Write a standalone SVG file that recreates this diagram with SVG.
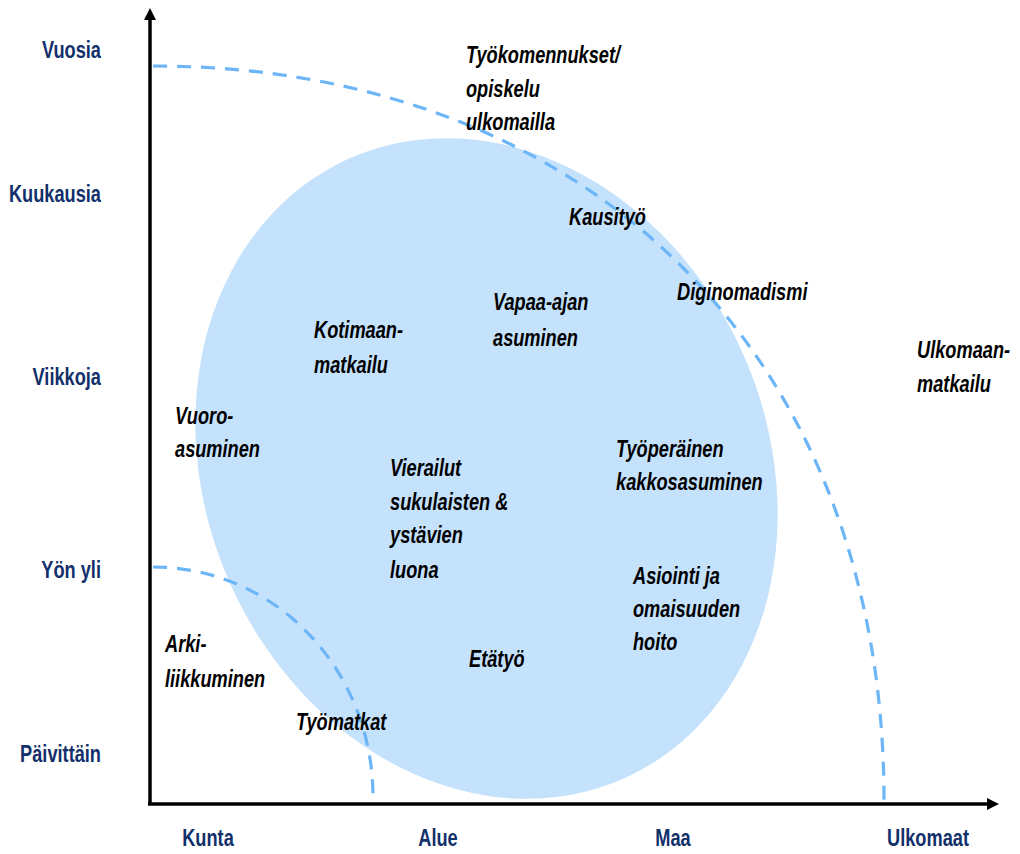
<svg xmlns="http://www.w3.org/2000/svg" width="1020" height="854" viewBox="0 0 1020 854">
<style>
.ax{font-family:"Liberation Sans",Arial,sans-serif;font-weight:bold;font-size:23.5px;fill:#12306b}
.yl{text-anchor:end}
.xl{text-anchor:middle}
.lb{font-family:"Liberation Sans",Arial,sans-serif;font-weight:bold;font-style:italic;font-size:23.5px;fill:#000}
.dash{fill:none;stroke:#6cb6f7;stroke-width:3.2;stroke-dasharray:14 10}
.axis{stroke:#000;stroke-width:3.5;fill:none}
</style>
<defs>
<marker id="ah" viewBox="0 0 12 12" refX="0" refY="6" markerWidth="12" markerHeight="12" markerUnits="userSpaceOnUse" orient="auto">
<path d="M0,0 L12,6 L0,12 Z" fill="#000"/>
</marker>
</defs>
<rect width="1020" height="854" fill="#fff"/>
<g id="zone">
<ellipse cx="486.5" cy="468.5" rx="281" ry="339" transform="rotate(-23.7 486.5 468.5)" fill="#c5e2fd"/>
</g>
<g id="connectors">
<path class="dash" d="M153,66 C592,66 884,360 884,800"/>
<path class="dash" d="M153,567 C276,567 373,670 373,797"/>
<line class="axis" x1="150" y1="804" x2="150" y2="20" marker-end="url(#ah)"/>
<line class="axis" x1="148" y1="804" x2="987" y2="804" marker-end="url(#ah)"/>
</g>
<g id="y-axis-labels">
<text class="ax yl" transform="translate(101 58) scale(0.775 1)">Vuosia</text>
<text class="ax yl" transform="translate(101 202) scale(0.775 1)">Kuukausia</text>
<text class="ax yl" transform="translate(101 385) scale(0.775 1)">Viikkoja</text>
<text class="ax yl" transform="translate(101 578) scale(0.775 1)">Yön yli</text>
<text class="ax yl" transform="translate(101 762) scale(0.775 1)">Päivittäin</text>
</g>
<g id="x-axis-labels">
<text class="ax xl" transform="translate(208 846) scale(0.775 1)">Kunta</text>
<text class="ax xl" transform="translate(438 846) scale(0.775 1)">Alue</text>
<text class="ax xl" transform="translate(673 846) scale(0.775 1)">Maa</text>
<text class="ax xl" transform="translate(928 846) scale(0.775 1)">Ulkomaat</text>
</g>
<g id="tyokomennukset"><text class="lb" transform="translate(466 63) scale(0.775 1)">Työkomennukset/</text><text class="lb" transform="translate(466 97) scale(0.775 1)">opiskelu</text><text class="lb" transform="translate(466 130) scale(0.775 1)">ulkomailla</text></g>
<g id="kausityo"><text class="lb" transform="translate(569 225) scale(0.775 1)">Kausityö</text></g>
<g id="diginomadismi"><text class="lb" transform="translate(677 300) scale(0.775 1)">Diginomadismi</text></g>
<g id="ulkomaanmatkailu"><text class="lb" transform="translate(917 358) scale(0.775 1)">Ulkomaan-</text><text class="lb" transform="translate(917 392) scale(0.775 1)">matkailu</text></g>
<g id="vapaa-ajan"><text class="lb" transform="translate(493 310) scale(0.775 1)">Vapaa-ajan</text><text class="lb" transform="translate(493 346) scale(0.775 1)">asuminen</text></g>
<g id="kotimaanmatkailu"><text class="lb" transform="translate(314 338) scale(0.775 1)">Kotimaan-</text><text class="lb" transform="translate(314 373) scale(0.775 1)">matkailu</text></g>
<g id="vuoroasuminen"><text class="lb" transform="translate(175 424) scale(0.775 1)">Vuoro-</text><text class="lb" transform="translate(175 457) scale(0.775 1)">asuminen</text></g>
<g id="vierailut"><text class="lb" transform="translate(390 476) scale(0.775 1)">Vierailut</text><text class="lb" transform="translate(390 510) scale(0.775 1)">sukulaisten &amp;</text><text class="lb" transform="translate(390 543) scale(0.775 1)">ystävien</text><text class="lb" transform="translate(390 578) scale(0.775 1)">luona</text></g>
<g id="tyoperainen"><text class="lb" transform="translate(616 457) scale(0.775 1)">Työperäinen</text><text class="lb" transform="translate(616 490) scale(0.775 1)">kakkosasuminen</text></g>
<g id="asiointi"><text class="lb" transform="translate(633 584) scale(0.775 1)">Asiointi ja</text><text class="lb" transform="translate(633 617) scale(0.775 1)">omaisuuden</text><text class="lb" transform="translate(633 650) scale(0.775 1)">hoito</text></g>
<g id="arkiliikkuminen"><text class="lb" transform="translate(165 652) scale(0.775 1)">Arki-</text><text class="lb" transform="translate(165 687) scale(0.775 1)">liikkuminen</text></g>
<g id="tyomatkat"><text class="lb" transform="translate(296 730) scale(0.775 1)">Työmatkat</text></g>
<g id="etatyo"><text class="lb" transform="translate(469 667) scale(0.775 1)">Etätyö</text></g>
</svg>
